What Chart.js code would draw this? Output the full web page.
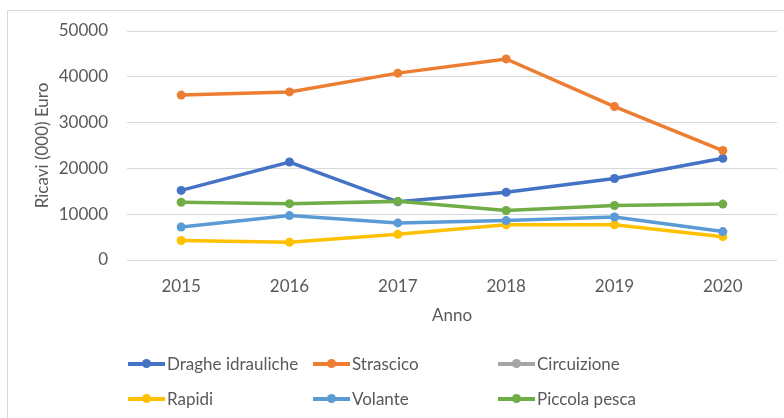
<!DOCTYPE html>
<html>
<head>
<meta charset="utf-8">
<script src="https://cdn.jsdelivr.net/npm/chart.js@4"></script>
<style>
  body { margin: 0; background: #fff; }
  #box { position: relative; width: 784px; height: 418px; overflow: hidden; }
  #cornice { position: absolute; left: 7px; top: 10px; width: 800px; height: 430px; border: 1px solid #d9d9d9; }
  #legenda { position: absolute; left: 128px; top: 352px; display: grid; grid-template-columns: 185px 185px 185px; row-gap: 12px;
    font-family: Lato, sans-serif; font-size: 17px; color: #595959; }
  .voce { display: flex; align-items: center; height: 23px; white-space: nowrap; }
  .icona { position: relative; width: 37px; height: 4px; margin-right: 2px; }
  .icona span { position: absolute; left: 14px; top: -3px; width: 9px; height: 9px; border-radius: 50%; }
</style>
</head>
<body>
<div id="box">
  <div id="cornice"></div>
  <canvas id="grafico" width="784" height="418"></canvas>
  <div id="legenda"></div>
</div>
<script>
const anni = ["2015", "2016", "2017", "2018", "2019", "2020"];
const nomi = ["Draghe idrauliche", "Strascico", "Circuizione", "Rapidi", "Volante", "Piccola pesca"];
const colori = ["#4472C4", "#ED7D31", "#A5A5A5", "#FFC000", "#5B9BD5", "#70AD47"];

const draghe = [15200, 21400, 12700, 14800, 17800, 22200];
const strascico = [36000, 36700, 40800, 43900, 33500, 23900];
const circuizione = [null, null, null, null, null, null];
const rapidi = [4250, 3900, 5600, 7700, 7700, 5100];
const volante = [7200, 9700, 8100, 8600, 9400, 6200];
const piccolaPesca = [12600, 12300, 12800, 10800, 11900, 12200];

const serie = [draghe, strascico, circuizione, rapidi, volante, piccolaPesca];
const grigio = "#595959";
const font = { family: "Lato, sans-serif", size: 17 };

// le serie successive stanno sopra, come in Excel
const datasets = serie.map((valori, i) => ({
  label: nomi[i],
  data: valori,
  borderColor: colori[i],
  backgroundColor: colori[i],
  borderWidth: 3.5,
  pointRadius: 4.5,
  pointBorderWidth: 0,
  order: serie.length - i,
  tension: 0
}));

new Chart(document.getElementById("grafico"), {
  type: "line",
  data: { labels: anni, datasets },
  options: {
    responsive: false,
    animation: false,
    layout: { padding: { top: 31, right: 7, bottom: 92, left: 0 } },
    plugins: { legend: { display: false }, tooltip: { enabled: false } },
    scales: {
      x: {
        offset: true,
        grid: { display: false },
        border: { display: false },
        ticks: { color: grigio, font, padding: 8, maxRotation: 0 },
        title: { display: true, text: "Anno", color: grigio, font, padding: 0 },
        afterFit: (s) => { s.height = 66; }
      },
      y: {
        min: 0,
        max: 50000,
        grid: { color: "#d9d9d9", lineWidth: 1, drawTicks: false },
        border: { display: false },
        ticks: { stepSize: 10000, color: grigio, font, padding: 19, callback: (v) => String(v) },
        title: { display: true, text: "Ricavi (000) Euro", color: grigio, font, padding: { top: 32, bottom: 0 } },
        afterFit: (s) => { s.width = 127; }
      }
    }
  }
});

// legenda su tre colonne
const legenda = document.getElementById("legenda");
nomi.forEach((nome, i) => {
  const voce = document.createElement("div");
  voce.className = "voce";
  voce.innerHTML = `<div class="icona" style="background:${colori[i]}"><span style="background:${colori[i]}"></span></div>${nome}`;
  legenda.appendChild(voce);
});
</script>
</body>
</html>
